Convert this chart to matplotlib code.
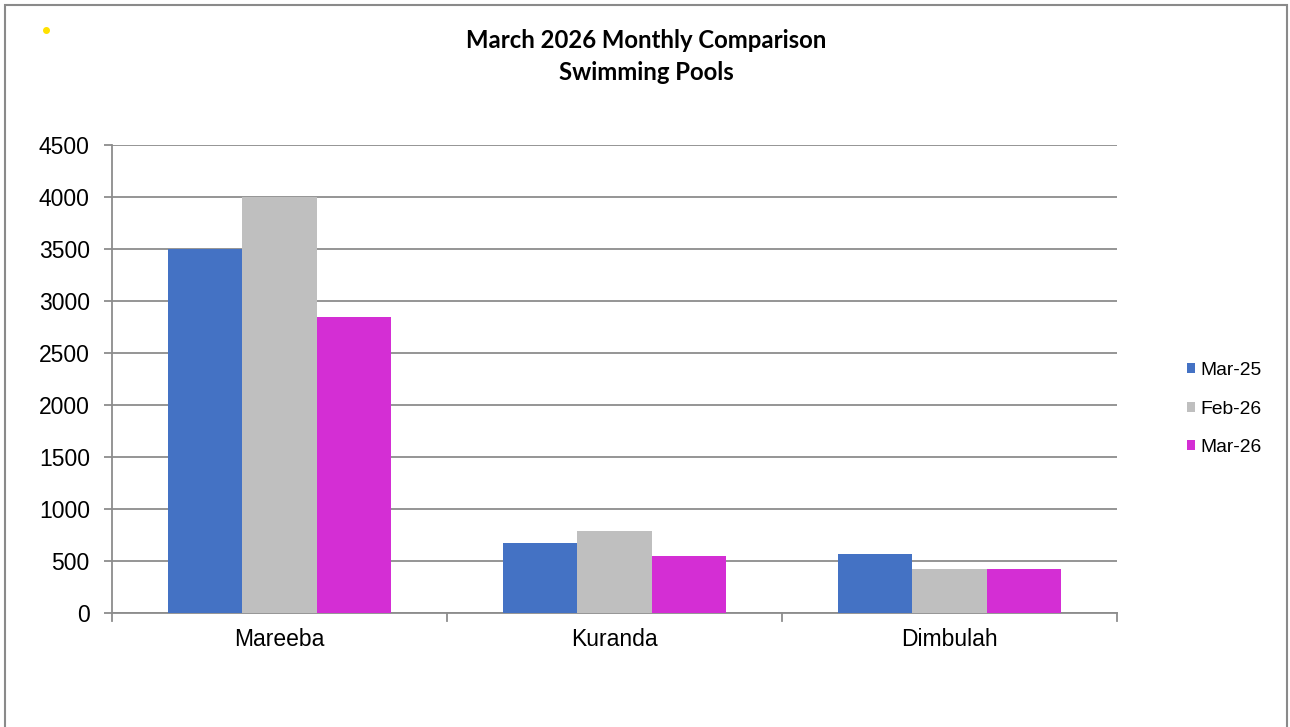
import numpy as np
import matplotlib.pyplot as plt
from matplotlib.patches import Rectangle
from matplotlib.lines import Line2D

# data
sites = ['Mareeba', 'Kuranda', 'Dimbulah']
series = ['Mar-25', 'Feb-26', 'Mar-26']
mar25 = [3500, 667, 563]
feb26 = [4000, 788, 418]
mar26 = [2846, 543, 418]
colors = ['#4472C4', '#BFBFBF', '#D42ED4']
yticks = [0, 500, 1000, 1500, 2000, 2500, 3000, 3500, 4000, 4500]
title_lines = ['March 2026 Monthly Comparison', 'Swimming Pools']

W, H = 1290, 727
fig = plt.figure(figsize=(W / 100, H / 100), dpi=100)
ax = fig.add_axes([112 / W, 1 - 612.5 / H, (1117 - 112) / W, (612.5 - 145) / H])

x = np.arange(len(sites))
bw = 0.667 / 3
for i, (vals, lab, c) in enumerate(zip([mar25, feb26, mar26], series, colors)):
    ax.bar(x + (i - 1) * bw, vals, width=bw, color=c, label=lab, zorder=3)

ax.set_xlim(-0.5, len(sites) - 0.5)
ax.set_ylim(0, 4500)
ax.set_yticks(yticks)
ax.set_yticklabels([str(v) for v in yticks], fontsize=16.5, family='Liberation Sans')
ax.yaxis.grid(True, color='#8c8c8c', linewidth=1.3, zorder=0)
ax.set_axisbelow(True)

ax.set_xticks(x)
ax.set_xticklabels(sites, fontsize=16.5, family='Liberation Sans')
ax.tick_params(axis='x', length=0, pad=11)
ax.tick_params(axis='y', length=6, color='#8c8c8c', width=1.3, pad=10)
# category boundary ticks
for b in np.arange(len(sites) + 1) - 0.5:
    ax.plot([b, b], [0, -0.018], transform=ax.get_xaxis_transform(),
            color='#8c8c8c', lw=1.3, clip_on=False)

for s in ['top', 'right']:
    ax.spines[s].set_visible(False)
for s in ['left', 'bottom']:
    ax.spines[s].set_color('#8c8c8c')
    ax.spines[s].set_linewidth(1.3)

for ty, line in zip([40, 72], title_lines):
    fig.text(646 / W, 1 - ty / H, line, ha='center', va='center',
             fontsize=17.2, fontweight='bold', family='Lato')

leg = fig.legend(loc='center left', bbox_to_anchor=(1187 / W, 1 - 409 / H),
                 frameon=False, prop={'family': 'Liberation Sans', 'size': 13.9},
                 handlelength=0.42, handleheight=0.42, handletextpad=0.25,
                 labelspacing=1.1, borderpad=0, borderaxespad=0)

# chart frame and marker dot
fig.add_artist(Rectangle((5 / W, -0.01), (1287 - 5) / W, 1 - 5 / H + 0.01,
                         transform=fig.transFigure, fill=False,
                         edgecolor='#8a8a8a', lw=1.5))
fig.add_artist(Line2D([46 / W], [1 - 30 / H], transform=fig.transFigure,
                      marker='o', markersize=4, color='#FFE100', linestyle='none'))

fig.savefig('out.png', dpi=100)
